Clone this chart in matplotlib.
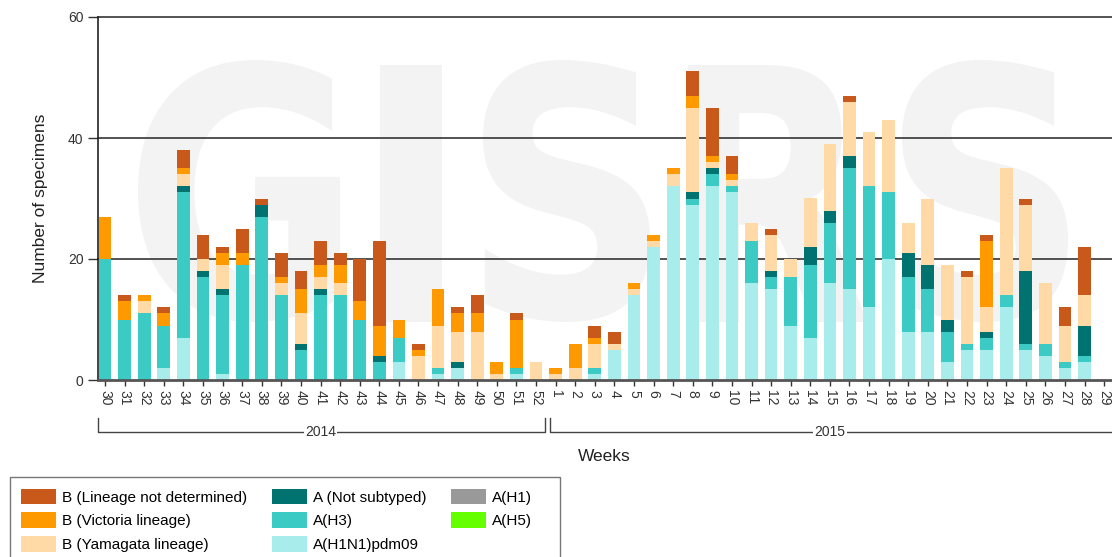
import matplotlib
matplotlib.use("Agg")
import matplotlib.pyplot as plt
import numpy as np
from matplotlib.patches import Patch, PathPatch, Rectangle
from matplotlib.textpath import TextPath
from matplotlib.font_manager import FontProperties
from matplotlib.transforms import Affine2D, blended_transform_factory

plt.rcParams['font.family'] = ['Liberation Sans', 'DejaVu Sans']

# week labels: 2014 weeks 30-52, then 2015 weeks 1-29
weeks = [str(w) for w in range(30, 53)] + [str(w) for w in range(1, 30)]

pdm09 = [0, 0, 0, 2, 7, 0, 1, 0, 0, 0, 0, 0, 0, 0, 0, 3, 0, 1, 2, 0, 0, 1, 0,
         0, 0, 1, 5, 14, 22, 32, 29, 32, 31, 16, 15, 9, 7, 16, 15, 12, 20, 8, 8, 3, 5, 5, 12, 5, 4, 2, 3, 0]
h3 = [20, 10, 11, 7, 24, 17, 13, 19, 27, 14, 5, 14, 14, 10, 3, 4, 0, 1, 0, 0, 0, 1, 0,
      0, 0, 1, 0, 0, 0, 0, 1, 2, 1, 7, 2, 8, 12, 10, 20, 20, 11, 9, 7, 5, 1, 2, 2, 1, 2, 1, 1, 0]
not_sub = [0, 0, 0, 0, 1, 1, 1, 0, 2, 0, 1, 1, 0, 0, 1, 0, 0, 0, 1, 0, 0, 0, 0,
           0, 0, 0, 0, 0, 0, 0, 1, 1, 0, 0, 1, 0, 3, 2, 2, 0, 0, 4, 4, 2, 0, 1, 0, 12, 0, 0, 5, 0]
h1 = [0] * 52
h5 = [0] * 52
yamagata = [0, 0, 2, 0, 2, 2, 4, 0, 0, 2, 5, 2, 2, 0, 0, 0, 4, 7, 5, 8, 1, 0, 3,
            1, 2, 4, 1, 1, 1, 2, 14, 1, 1, 3, 6, 3, 8, 11, 9, 9, 12, 5, 11, 9, 11, 4, 21, 11, 10, 6, 5, 0]
victoria = [7, 3, 1, 2, 1, 0, 2, 2, 0, 1, 4, 2, 3, 3, 5, 3, 1, 6, 3, 3, 2, 8, 0,
            1, 4, 1, 0, 1, 1, 1, 2, 1, 1, 0, 0, 0, 0, 0, 0, 0, 0, 0, 0, 0, 0, 11, 0, 0, 0, 0, 0, 0]
b_nd = [0, 1, 0, 1, 3, 4, 1, 4, 1, 4, 3, 4, 2, 7, 14, 0, 1, 0, 1, 3, 0, 1, 0,
        0, 0, 2, 2, 0, 0, 0, 4, 8, 3, 0, 1, 0, 0, 0, 1, 0, 0, 0, 0, 0, 1, 1, 0, 1, 0, 3, 8, 0]

series = [
    ("A(H1N1)pdm09", pdm09, "#a8eceb"),
    ("A(H3)", h3, "#3ccbc4"),
    ("A (Not subtyped)", not_sub, "#007370"),
    ("A(H1)", h1, "#999999"),
    ("A(H5)", h5, "#66ff00"),
    ("B (Yamagata lineage)", yamagata, "#ffd9a6"),
    ("B (Victoria lineage)", victoria, "#ff9900"),
    ("B (Lineage not determined)", b_nd, "#c8591a"),
]

fig = plt.figure(figsize=(11.12, 5.57), dpi=100)

# faint GISRS watermark behind the plot
bg = fig.add_axes([0, 0, 1, 1], zorder=0)
bg.set_xlim(0, 1112)
bg.set_ylim(557, 0)
bg.axis('off')
boxes = [("G", 138, 340, 60, 322), ("I", 380, 442, 65, 322), ("S", 483, 650, 60, 322),
         ("R", 688, 867, 65, 322), ("S", 902, 1068, 60, 322)]
fp = FontProperties(family='DejaVu Sans', weight='bold')
for ch, x0, x1, y0, y1 in boxes:
    p = TextPath((0, 0), ch, size=100, prop=fp)
    e = p.get_extents()
    t = Affine2D().translate(-e.x0, -e.y0).scale((x1 - x0) / e.width, -(y1 - y0) / e.height).translate(x0, y1)
    bg.add_patch(PathPatch(t.transform_path(p), fc="#f3f3f3", ec="none"))

ax = fig.add_axes([98 / 1112, 1 - 380 / 557, 1 - 98 / 1112, 363 / 557], zorder=1)
ax.set_facecolor("none")

x = np.arange(len(weeks))
bottom = np.zeros(len(weeks))
for name, vals, col in series:
    ax.bar(x, vals, 0.65, bottom=bottom, color=col, zorder=2)
    bottom += np.array(vals)

for yv in [20, 40, 60]:
    ax.axhline(yv, color="#444444", lw=1.3, zorder=1, clip_on=False)

ax.set_xlim(-0.36, 51.4)
ax.set_ylim(0, 60)
ax.set_yticks([0, 20, 40, 60])
ax.set_xticks(x)
ax.set_xticklabels(weeks, rotation=270, fontsize=10, color="#333333")
ax.tick_params(axis='y', length=7, width=1, colors="#333333", labelsize=10)
ax.tick_params(axis='x', length=4.5, width=1, colors="#333333", pad=3)
for s in ["top", "right"]:
    ax.spines[s].set_visible(False)
ax.spines["left"].set_color("#222222")
ax.spines["left"].set_linewidth(1.2)
ax.spines["bottom"].set_color("#555555")
ax.spines["bottom"].set_linewidth(2)

ax.set_ylabel("Number of specimens", fontsize=12.5, color="#222222", labelpad=14)

# year brackets under the week labels
tr = blended_transform_factory(ax.transData, ax.transAxes)
yb, yt = -0.143, -0.105
ax.plot([-0.36, -0.36, 22.45, 22.45], [yt, yb, yb, yt], transform=tr, color="#444444", lw=1, clip_on=False)
ax.plot([22.72, 22.72, 52], [yt, yb, yb], transform=tr, color="#444444", lw=1, clip_on=False)
ax.text(11, yb, "2014", transform=tr, ha="center", va="center", fontsize=10, color="#333333",
        bbox=dict(fc="white", ec="none", pad=1))
ax.text(37, yb, "2015", transform=tr, ha="center", va="center", fontsize=10, color="#333333",
        bbox=dict(fc="white", ec="none", pad=1))
ax.text(25.5, -0.212, "Weeks", transform=tr, ha="center", va="center", fontsize=12.5, color="#222222")

order = [7, 6, 5, 2, 1, 0, 3, 4]
handles = [Patch(fc=series[i][2], ec="none") for i in order]
labels = [series[i][0] for i in order]
leg = fig.legend(handles, labels, ncol=3, loc="upper left", bbox_to_anchor=(10 / 1112, 1 - 478 / 557),
                 fontsize=11, frameon=False,
                 handlelength=2.3, handleheight=1.2, handletextpad=0.4, columnspacing=1.6,
                 labelspacing=0.5, borderpad=0.7, borderaxespad=0)
fig.add_artist(Rectangle((10 / 1112, -0.01), 550 / 1112, (557 - 477) / 557 + 0.01,
                         transform=fig.transFigure, fill=False, ec="#777777", lw=1))

fig.savefig("out.png", dpi=100)
